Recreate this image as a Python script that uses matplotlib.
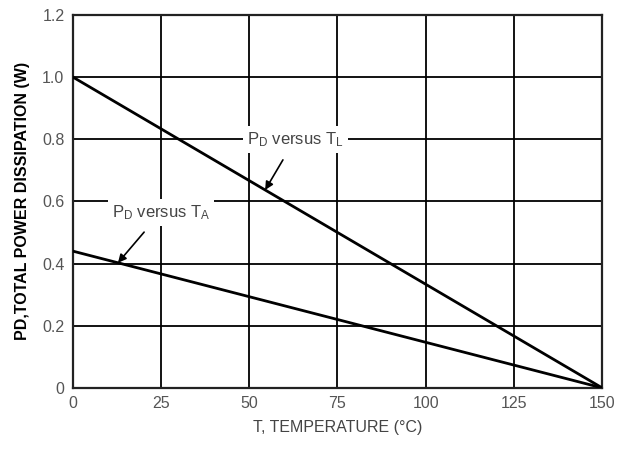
import matplotlib
matplotlib.use("Agg")
import matplotlib.pyplot as plt

plt.rcParams['font.family'] = ['Liberation Sans', 'DejaVu Sans']
plt.rcParams['mathtext.fontset'] = 'custom'
plt.rcParams['mathtext.rm'] = 'Liberation Sans'
plt.rcParams['mathtext.it'] = 'Liberation Sans'

# Data
temps = [0, 150]
pd_vs_tl = [1.0, 0.0]
pd_vs_ta = [0.44, 0.0]
x_ticks = [0, 25, 50, 75, 100, 125, 150]
y_ticks = [0, 0.2, 0.4, 0.6, 0.8, 1.0, 1.2]
y_tick_labels = ["0", "0.2", "0.4", "0.6", "0.8", "1.0", "1.2"]
label_tl = r"P$_\mathrm{D}$ versus T$_\mathrm{L}$"
label_ta = r"P$_\mathrm{D}$ versus T$_\mathrm{A}$"

fig = plt.figure(figsize=(6.17, 4.5), dpi=100)
ax = fig.add_axes([0.118, 0.138, 0.858, 0.829])

ax.set_xlim(0, 150)
ax.set_ylim(0, 1.2)
ax.set_xticks(x_ticks)
ax.set_yticks(y_ticks)
ax.set_yticklabels(y_tick_labels)
ax.grid(True, color='black', linewidth=1.3)
ax.set_axisbelow(True)
ax.tick_params(length=0, labelsize=11.5, labelcolor='#555555', pad=6)
for s in ax.spines.values():
    s.set_linewidth(1.6)
    s.set_color('#222222')

ax.plot(temps, pd_vs_tl, color='black', linewidth=2.0, zorder=3)
ax.plot(temps, pd_vs_ta, color='black', linewidth=2.0, zorder=3)

bbox = dict(facecolor='white', edgecolor='none', pad=3)
ax.annotate(label_tl, xy=(54.5, 1.0 - 54.5/150), xytext=(63, 0.8),
            ha='center', va='center', fontsize=12, color='#444444', bbox=bbox,
            arrowprops=dict(arrowstyle='-|>', color='black', lw=1.2,
                            mutation_scale=12, shrinkA=6, shrinkB=0), zorder=4)
ax.annotate(label_ta, xy=(12.8, 0.44*(1 - 12.8/150)), xytext=(25, 0.565),
            ha='center', va='center', fontsize=12, color='#444444', bbox=bbox,
            arrowprops=dict(arrowstyle='-|>', color='black', lw=1.2,
                            mutation_scale=12, shrinkA=6, shrinkB=0), zorder=4)

ax.set_xlabel("T, TEMPERATURE (°C)", fontsize=11.5, color='#444444', labelpad=6)
ax.set_ylabel("PD,TOTAL POWER DISSIPATION (W)", fontsize=11.5, fontweight='bold',
              color='black', labelpad=9)

fig.savefig("out.png", dpi=100)
